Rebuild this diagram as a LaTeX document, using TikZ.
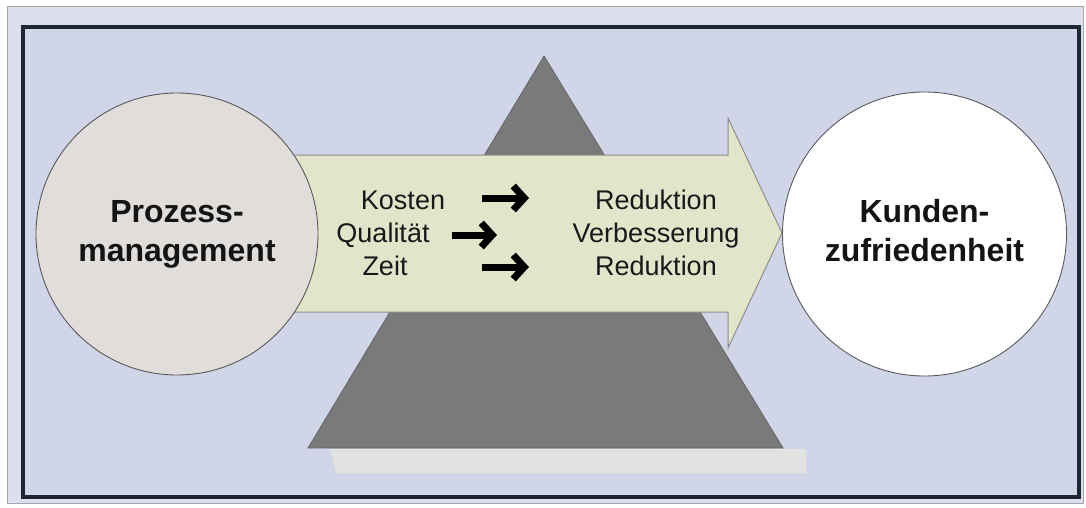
\documentclass[tikz,border=0pt]{standalone}
\usepackage{fontspec}
\setmainfont{Liberation Sans}
\usetikzlibrary{arrows.meta}
\definecolor{bgout}{HTML}{DCDFEE}
\definecolor{bgin}{HTML}{D0D6E8}
\definecolor{framec}{HTML}{1E2633}
\definecolor{lcirc}{HTML}{E0DDDA}
\definecolor{arrowfill}{HTML}{E3E5CB}
\definecolor{tri}{HTML}{7A7A7A}
\definecolor{shadowc}{HTML}{E2E3E0}
\begin{document}
\begin{tikzpicture}[x=1pt,y=-1pt,
 bigcirc/.style={circle, draw=black!65, line width=0.9pt, inner sep=0pt, minimum size=282pt, align=center, font=\bfseries\fontsize{32}{39}\selectfont, text=black!92},
 lbl/.style={anchor=base, inner sep=0pt, font=\fontsize{27}{33}\selectfont, text=black!90},
 pfeil/.style={line width=7pt, -{Straight Barb[length=11pt,width=24pt]}}
]
\useasboundingbox (0,0) rectangle (1086,508);
\fill[white] (0,0) rectangle (1086,508);
\draw[fill=bgout, draw=black!35, line width=1pt] (7,7) rectangle (1083,503);
\draw[fill=bgin, draw=framec, line width=4pt] (23,27) rectangle (1079,497);
% pyramid with light shadow
\fill[shadowc] (330,449) -- (806,449) -- (806,473) -- (336,473) -- cycle;
\draw[fill=tri, draw=black!60, line width=0.8pt] (544,56) -- (783,448) -- (308,448) -- cycle;
% big arrow
\draw[fill=arrowfill, draw=black!45, line width=1pt] (290,155) -- (728,155) -- (728,118) -- (782,233) -- (728,348) -- (728,312) -- (290,312) -- cycle;
% circles
\node[bigcirc, fill=lcirc] (pm) at (177,234) {Prozess-\\management};
\node[bigcirc, fill=white, minimum size=284pt] (kz) at (924.5,234) {Kunden-\\zufriedenheit\vphantom{g}};
% labels
\node[lbl] (k) at (403,209) {Kosten};
\node[lbl] (q) at (383,242) {Qualität};
\node[lbl] (z) at (385,275) {Zeit};
\node[lbl] (r1) at (656,209) {Reduktion};
\node[lbl] (v) at (656,242) {Verbesserung};
\node[lbl] (r2) at (656,275) {Reduktion};
% small arrows
\coordinate (a1s) at (482,198); \coordinate (a1e) at (529,198);
\coordinate (a2s) at (452,235); \coordinate (a2e) at (497,235);
\coordinate (a3s) at (482,267); \coordinate (a3e) at (529,267);
\draw[pfeil] (a1s) -- (a1e);
\draw[pfeil] (a2s) -- (a2e);
\draw[pfeil] (a3s) -- (a3e);
\end{tikzpicture}
\end{document}
